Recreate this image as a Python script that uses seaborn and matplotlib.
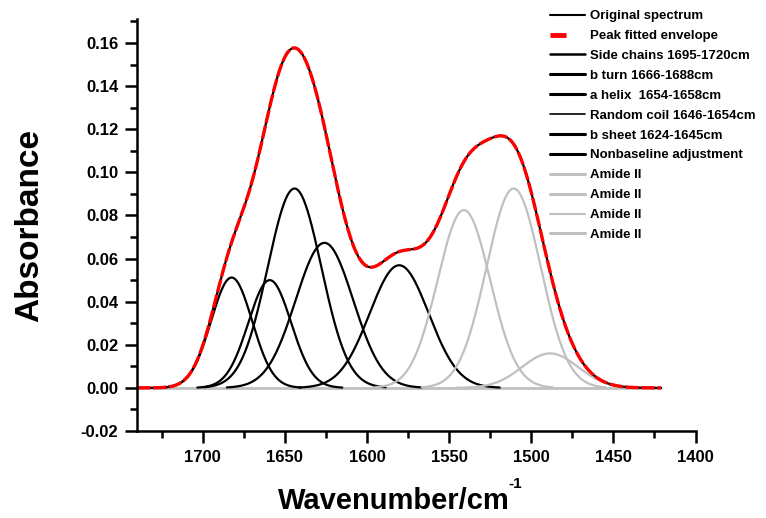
import numpy as np
import pandas as pd
import matplotlib
matplotlib.use("Agg")
import matplotlib.pyplot as plt
from matplotlib.lines import Line2D
from matplotlib.ticker import MultipleLocator, FormatStrFormatter
import seaborn as sns

# ── peak-fit parameters ──────────────────────────────────────────────────────
# amide I components (black): centre (cm-1), height (abs), gaussian sigma (cm-1)
amide1_center = [1682.4, 1659.2, 1644.1, 1625.9, 1580.4]
amide1_height = [0.0512, 0.0500, 0.0925, 0.0673, 0.0569]
amide1_sigma  = [12.5, 13.0, 16.3, 17.5, 18.0]

# amide II components (grey)
amide2_center = [1541.0, 1510.7, 1488.5]
amide2_height = [0.0825, 0.0925, 0.0160]
amide2_sigma  = [16.0, 16.5, 17.0]

# measured range of the spectrum
wn_start, wn_end = 1740, 1421

legend_labels = ["Original spectrum", "Peak fitted envelope",
                 "Side chains 1695-1720cm", "b turn 1666-1688cm",
                 "a helix  1654-1658cm", "Random coil 1646-1654cm",
                 "b sheet 1624-1645cm", "Nonbaseline adjustment",
                 "Amide II", "Amide II", "Amide II", "Amide II"]

y_ticks = [-0.02, 0.00, 0.02, 0.04, 0.06, 0.08, 0.10, 0.12, 0.14, 0.16]
x_ticks = [1700, 1650, 1600, 1550, 1500, 1450, 1400]

BLACK, RED, GREY = "#000000", "#ff0000", "#c0c0c0"

sns.set_style("ticks")
plt.rcParams["font.family"] = ["Liberation Sans", "DejaVu Sans"]
plt.rcParams.update({"text.color": BLACK, "axes.labelcolor": BLACK,
                     "xtick.color": BLACK, "ytick.color": BLACK})

wn = np.linspace(wn_start, wn_end, 800)


def gauss(x, c, h, s):
    return h * np.exp(-(x - c) ** 2 / (2 * s ** 2))


fig = plt.figure(figsize=(7.66, 5.18), dpi=100)
ax = fig.add_axes([137 / 766, 87 / 518, 558.5 / 766, 411.7 / 518])

# baseline (zero level)
base = pd.DataFrame({"wn": wn, "a": np.zeros_like(wn)})
sns.lineplot(data=base, x="wn", y="a", color=GREY, lw=2.0, ax=ax,
             estimator=None, sort=False, legend=False)

envelope = np.zeros_like(wn)
for centers, heights, sigmas, col in [
        (amide1_center, amide1_height, amide1_sigma, BLACK),
        (amide2_center, amide2_height, amide2_sigma, GREY)]:
    for c, h, s in zip(centers, heights, sigmas):
        envelope += gauss(wn, c, h, s)
        part = wn[np.abs(wn - c) < 3.4 * s]
        df = pd.DataFrame({"wn": part, "a": gauss(part, c, h, s)})
        sns.lineplot(data=df, x="wn", y="a", color=col, lw=1.6, ax=ax,
                     estimator=None, sort=False, legend=False)

env = pd.DataFrame({"wn": wn, "a": envelope})
sns.lineplot(data=env, x="wn", y="a", color=BLACK, lw=1.6, ax=ax,
             estimator=None, sort=False, legend=False)
sns.lineplot(data=env, x="wn", y="a", color=RED, lw=2.4, ax=ax,
             estimator=None, sort=False, legend=False, dashes=False)
ax.lines[-1].set_dashes((4, 0.8))

# ── axes styling ─────────────────────────────────────────────────────────────
ax.set_xlim(wn_start, 1400)
ax.set_ylim(-0.02, 0.171)
ax.set_xticks(x_ticks)
ax.set_yticks(y_ticks)
ax.xaxis.set_minor_locator(MultipleLocator(25))
ax.yaxis.set_minor_locator(MultipleLocator(0.01))
ax.yaxis.set_major_formatter(FormatStrFormatter("%.2f"))
sns.despine(ax=ax)
for side in ["left", "bottom"]:
    ax.spines[side].set_linewidth(1.8)
    ax.spines[side].set_color(BLACK)
ax.tick_params(which="major", length=8.5, width=1.8, color=BLACK,
               labelcolor=BLACK, labelsize=12, pad=5)
ax.tick_params(which="minor", length=5, width=1.8, color=BLACK)
for lab in ax.get_xticklabels() + ax.get_yticklabels():
    lab.set_fontweight("bold")

ax.set_xlabel("Wavenumber/cm", fontsize=21, fontweight="bold", color=BLACK)
ax.xaxis.set_label_coords((394 - 137) / 558.5, -0.135)
ax.set_ylabel("Absorbance", fontsize=24, fontweight="bold", color=BLACK)
ax.yaxis.set_label_coords(-(137 - 45) / 558.5, 0.5)
fig.text(508 / 766, 1 - 484 / 518, "-1", fontsize=11, fontweight="bold",
         ha="left", va="center", color=BLACK)

# ── legend (proxy handles, as in the figure) ─────────────────────────────────
handles = [Line2D([], [], color=BLACK, lw=1.5),
           Line2D([], [], color=RED, lw=3.5, dashes=(3.3, 10)),
           Line2D([], [], color=BLACK, lw=1.8),
           Line2D([], [], color=BLACK, lw=2.2),
           Line2D([], [], color=BLACK, lw=2.2),
           Line2D([], [], color=BLACK, lw=1.2),
           Line2D([], [], color=BLACK, lw=2.2),
           Line2D([], [], color=BLACK, lw=2.2),
           Line2D([], [], color=GREY, lw=2.2),
           Line2D([], [], color=GREY, lw=2.2),
           Line2D([], [], color=GREY, lw=1.5),
           Line2D([], [], color=GREY, lw=2.2)]
fig.legend(handles, legend_labels, loc="upper left",
           bbox_to_anchor=(550 / 766, 1 - 10 / 518), frameon=False,
           borderpad=0, borderaxespad=0, handlelength=2.65,
           handletextpad=0.4, labelspacing=0.58,
           prop={"weight": "bold", "size": 9.5})

fig.savefig("out.png", dpi=100)
